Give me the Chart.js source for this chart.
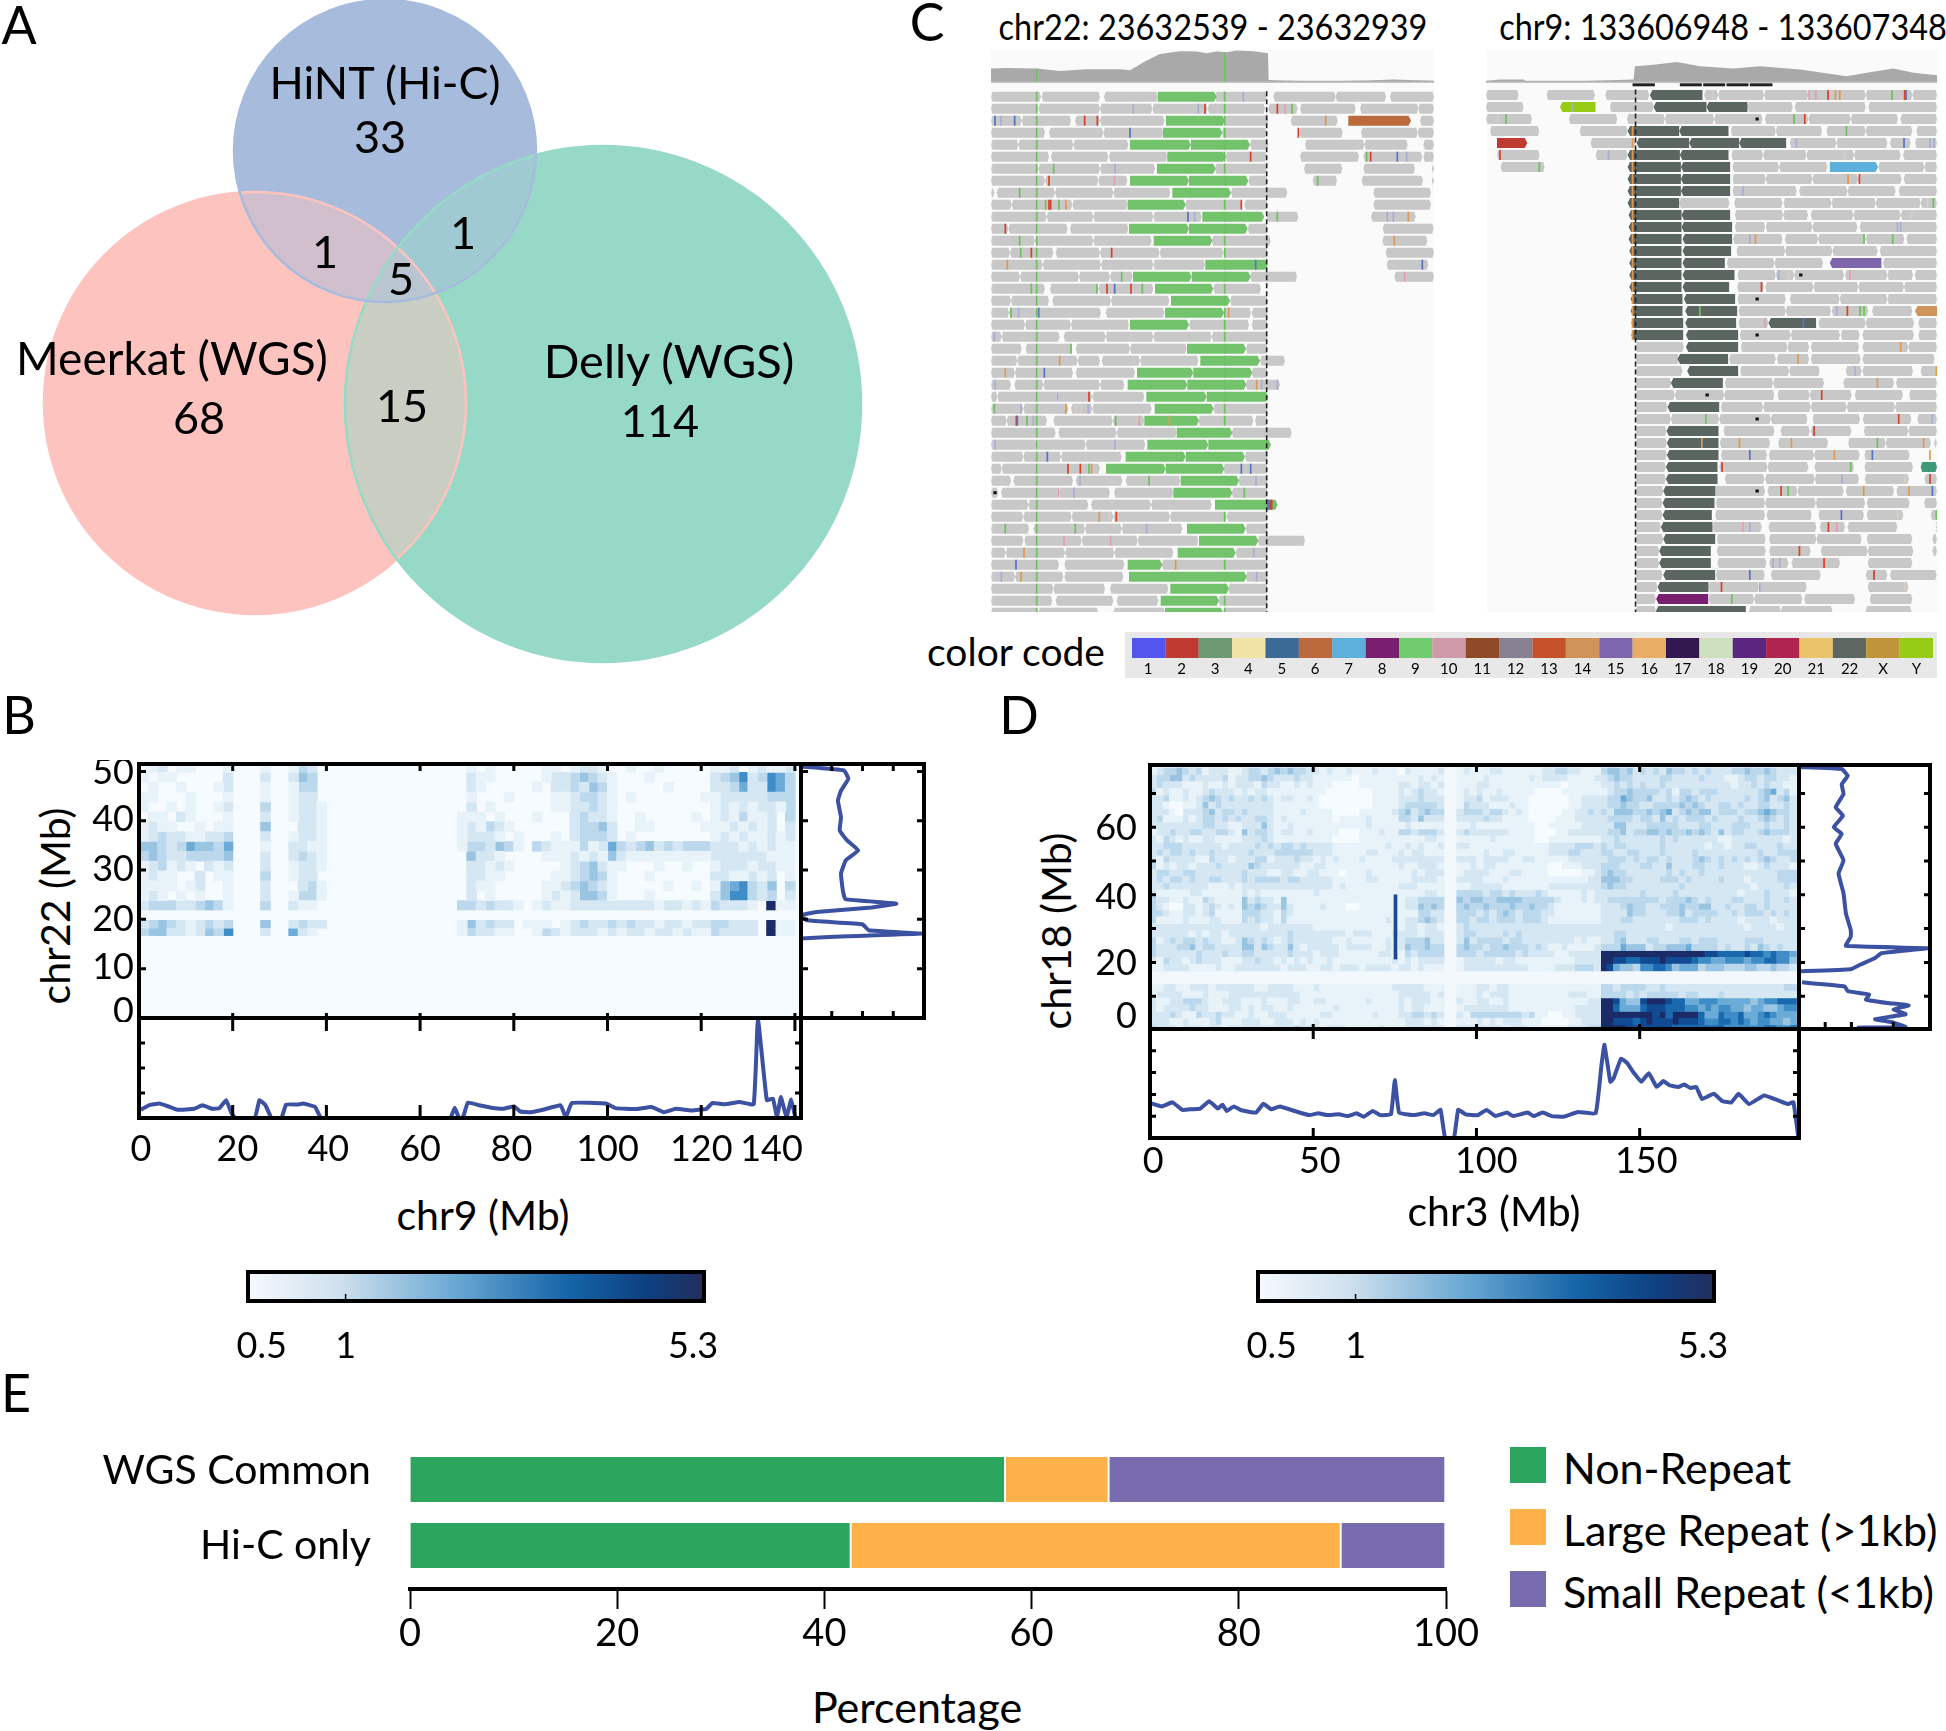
<!DOCTYPE html>
<html><head><meta charset="utf-8">
<script src="https://cdn.jsdelivr.net/npm/chart.js@4"></script>
<style>
html,body{margin:0;padding:0;background:#fff;width:1946px;height:1731px;overflow:hidden}
canvas,.t,.p{position:absolute}
.t{font-family:Lato,sans-serif;color:#000;white-space:nowrap;transform:translate(-50%,-50%);line-height:1}
</style></head><body>
<script>
/* ---------- Panel A ---------- */
const vennSets=['Meerkat (WGS)','Delly (WGS)','HiNT (Hi-C)'];
const vennOnly=[68,114,33];
const vennPairs=[1,1,15];
const vennAll=5;
/* ---------- Panel C : read pile-ups, positions along the 400 bp windows ---------- */
const greyL=[
[18,168,170,345,357,518,690,845,865,1052,1052,1203,1215,1347],
[18,160,160,345,345,502,502,668,668,840,850,938,945,1112,1125,1300,1300,1347],
[18,110,110,258,270,345,345,538,718,850,917,1058,1305,1347],
[18,180,192,355,355,535,710,845,942,1073,1128,1298,1298,1347],
[18,100,100,265,265,430,795,850,960,1138,1138,1268,1315,1347],
[18,192,198,370,372,547,722,845,945,1122,1135,1312,1315,1347],
[18,160,160,345,345,510,690,845,957,1072,1135,1290,1340,1347],
[18,180,180,340,340,427,790,848,983,1056,1130,1314,1340,1347],
[18,28,35,210,210,385,385,556,738,907,1165,1338],
[18,80,80,262,262,428,600,770,778,848,1165,1338],
[18,185,185,325,325,505,505,650,845,940,1158,1292],
[18,70,70,248,255,430,788,848,1193,1346],
[18,150,150,325,325,500,680,857,1192,1327],
[18,75,75,205,212,345,345,524,524,715,715,848,1202,1347],
[18,173,173,348,348,505,505,660,1205,1330],
[18,105,105,282,282,375,375,443,795,936,1228,1347],
[18,180,195,340,340,505,685,828],
[18,78,78,192,202,378,378,553,735,848],
[18,72,72,155,155,348,362,538,715,798,800,848],
[18,120,120,258,258,432,612,792,800,848],
[18,50,50,224,236,362,362,505,505,680,680,848],
[18,110,122,262,272,435,435,605,783,848],
[18,97,97,278,278,345,350,465,465,640,825,900],
[18,90,90,264,272,450,800,848],
[18,78,88,175,175,345,345,418,782,885],
[18,37,37,218,218,322,322,478],
[18,115,115,250,258,322,322,500,685,848],
[18,65,65,186,205,383,383,478,640,805,810,848],
[18,212,220,395,395,575,740,920],
[18,155,155,302,302,481],
[18,115,115,228,228,410,780,848],
[18,50,50,345,715,848],
[18,78,85,264,272,412,422,586,760,848],
[18,40,48,222,222,375,387,565,740,848],
[18,130,130,310,318,498,498,680],
[18,115,115,260,260,385,385,555,555,725,725,848],
[18,132,145,300,300,410,410,592,782,848],
[18,115,118,290,290,458,458,640,818,960],
[18,62,62,240,240,388,388,565,752,848],
[18,222,238,418,530,848],
[18,90,90,235,238,415,782,848],
[18,205,205,360,375,550,730,848],
[18,202,212,385,395,520,700,848],
[18,160,160,340,385,540,715,848]];
const greenL=[
[518,695],[],[543,720],[534,712],[435,618,618,795],[547,722],[516,692],[435,612,612,790],[562,738],[428,602],[652,838],
[432,612,612,788],[506,682],[],[661,848],[444,620,620,797],[510,685],[558,735],[540,717],[435,612],[],[606,783],
[646,825],[456,625,625,802],[428,607,607,784],[484,665,665,850],[509,686],[478,642],[575,742],[487,670,670,858],[422,602,602,780],[363,542,542,718],
[587,762],[565,742],[690,878],[],[606,782],[642,820],[578,752],[428,532],[432,785],[556,732],[527,702],[540,715]];
const mismatchL=[
'719g 775u','445u 640u 660r 719g 877r 900p 921g','30b 48u 89b 299r 337r 719g 1022o','435b 719g 940r','719g','797r 719g 1157r 1145g 1237b 1265u','206g 390u 719g','192r 388p 719g 998g','104g','182g 192r 197r 222g 243o 719g 769r','609b 629u 719g 877g 1207u 1225u 1270o',
'61r 719g','104g 719g 1228o','107g 139r 380r 719g','67o 719g 812b 1312b','410g 719g 1259p','139g 336g 366r 389b 438r 472g 719g','719g','78g 101u 161b 719g 731o','719g','28u 719g','258g 719g',
'224o 719g','61o 178b 719g','30u 719g 815o 830u 877u','218u 312r 719g','28g 108u 243o 273l 290l 310u 719g','94r 97b 126g 145u 392g 463p 553o 719g','','30u 390u','187b','249r 286r 312g 320o 769b 797b',
'285u 492g 813u','221p 267u 778g','855r 850b 860r','343o 373l 394r 719g','61g 271g 485u','237p 377p','117o 806u','93b 572o 719g','49u 108o 815u','719g','719g','719g'];
const snpColumnL=155;
const snpRowsL=[0,1,2,3,4,5,6,7,8,9,10,11,12,13,14,15,16,17,18,19,20,21,22,23,24,25,26,27,28,29,30,31,32,33,34,35,36,37,38,39,40,41,42,43];
const greyR=[
[0,98,182,327,358,490,655,697,697,835,835,968,968,1140,1140,1280,1280,1354],
[0,113,372,503,785,921,927,1140,1148,1354],
[0,138,249,394,423,537,537,685,685,830,837,968,968,1095,1095,1237,1244,1354],
[12,160,281,425,735,870,870,1009,1022,1140,1140,1280,1292,1354],
[314,449,912,1052,1052,1205,1213,1275,1288,1354],
[33,161,329,425,737,832,832,962,962,1105,1105,1245,1252,1354],
[44,176,740,880,880,1025,1178,1316,1316,1354],
[740,840,840,980,980,1118,1118,1248,1254,1354],
[740,933,940,1085,1085,1230,1239,1354],
[580,731,745,890,893,1037,1037,1170,1170,1305,1305,1354],
[747,892,892,967,975,1103,1103,1245,1245,1354],
[747,838,840,980,980,1115,1122,1354],
[742,890,897,997,997,1140,1140,1256,1262,1354],
[752,898,898,1040,1040,1176,1182,1354],
[723,866,866,1012,1192,1354],
[755,870,870,925,925,1075,1078,1205,1205,1282,1287,1354],
[754,835,838,983,983,1118,1118,1255,1255,1354],
[755,900,912,1062,1062,1205,1205,1354],
[758,900,900,1036,1038,1148,1159,1280],
[758,848,998,1140,1140,1285,1298,1354],
[762,915,915,1063,1065,1122,1130,1285,1298,1354],
[449,594,765,905,905,970,975,1120,1130,1268,1268,1354],
[449,580,730,870,873,970,975,1125,1130,1347],
[449,590,763,910,910,1002,1080,1128,1130,1282,1305,1354],
[449,556,717,862,862,1015,1073,1225,1231,1354],
[449,567,567,715,715,866,875,972,972,1098,1107,1252,1270,1354],
[449,545,705,832,832,975,975,1083,1083,1228,1228,1354],
[449,555,555,700,700,855,855,965,980,1123,1131,1277,1295,1354],
[449,542,713,866,884,972,975,1097,1134,1268,1268,1354],
[449,543,702,853,877,1027,1087,1200,1200,1336,1345,1354],
[449,543,705,844,849,985,985,1122,1136,1272],
[449,540,700,845,845,968,986,1105,1136,1282],
[449,540,717,836,838,987,987,1120,1137,1270,1316,1354],
[449,532,680,838,845,935,935,1074,1080,1225,1232,1354],
[449,530,690,838,838,990,990,1138,1143,1272,1315,1354],
[449,530,688,838,842,978,998,1135,1143,1253,1335,1354],
[449,525,680,828,848,992,1002,1078,1085,1235,1350,1354],
[449,532,693,840,850,992,992,1128,1143,1280,1340,1354],
[449,520,693,840,850,975,1005,1146,1146,1283,1340,1354],
[449,520,695,842,850,908,917,1063,1146,1280],
[449,530,690,837,855,1005,1140,1205,1213,1353],
[449,515,668,820,820,963,1146,1268],
[449,510,668,805,805,950,955,1108,1152,1280],
[449,510,790,885,885,1040,1140,1277]];
const darkR=[
[492,650],[503,662,662,785],[],[425,580,580,728],[452,610,610,760,760,901],[425,582,582,728],[425,585,585,733],[425,585,585,733],[425,585,585,733],[425,580],[428,587,587,733],
[428,587,587,739],[428,587,590,739],[430,587,590,736],[430,587,590,717],[430,587,590,746],[430,587,590,730],[434,590,594,748],[434,590,598,754],[436,592,598,751,848,991],[436,592,600,757],[600,757],
[575,727],[604,757],[555,711],[],[545,700],[],[542,698],[543,698],[543,698],[540,695],[540,695],[532,688],[530,686],[530,678],[525,680],[532,688],[520,675],[520,675],[532,688],[515,668],[],[510,780]];
const colouredRowsR=[1,4,6,14,18,31,42];
const colouredStartR=[222,33,1032,1032,1288,1305,511];
const colouredEndR=[329,124,1177,1187,1354,1354,667];
const colouredChrR=['Y','2','7','15','14','22b','8'];
const mismatchR=[
'680l 970p 990p 1027r 1049o 1062o 1219g 1257r 1261b','258u','60g 35l 925g 957r','440o 1082g','440o 932u 1255b 1333u 1345u','42r 368u 440o 1078l','160g 440o','440o 1087o 1121r','440o 771u','440o 1343g 1325l','440o 1278l',
'440o 1235u 1245u','440o 792u 809o 1135g 1221g','440o','440o','440o 879u 1093p 910l','440o 827r','440o','440o 642g 1053u 1085r 1123g 1135g','440o 838p 953b','440o','1245o',
'937o','1108u 1352o','1175o','1008r','','660g 1239r 1340u','985r','648o 761o 917o 1175g 1314o','792b 1046o 1160b 1333o','709r 1095g',
'1069u 1258l 1333r','886r 907g 1134o 1270o 1340b','','1067b 1238l 1352g','771p 792u 1028r 1053p','','941r','862u 882u 1015r','792b 1165r','707r 822u 1258l','738g',''];
const nullDotRowsR=[2,15,17,20,25,27,33];
const nullDotPosR=[814,945,814,814,664,814,814];
const haploBlocksStartR=[440,582,652,722,792];
const haploBlocksEndR=[507,648,718,788,860];
const nullDotRowsL=[33];
const nullDotPosL=[30];
const breakpointL=845, breakpointR=449;
const coverageXL=[17,65,155,225,305,405,435,485,525,585,635,665,695,725,755,805,849,851,945,1065,1145,1225,1345];
const coverageYL=[40,42,40,33,38,38,35,65,85,93,92,87,92,90,95,93,87,5,2,2,4,7,3];
const coverageXR=[3,43,113,120,243,443,447,503,573,643,743,823,943,1083,1143,1223,1283,1354];
const coverageYR=[3,7,7,1,1,7,47,52,60,47,40,47,37,17,27,40,27,20];
const chromCodes=['1','2','3','4','5','6','7','8','9','10','11','12','13','14','15','16','17','18','19','20','21','22','X','Y'];
/* ---------- Panel B : chr9 x chr22 ---------- */
const bColsMb=2;
const bRowEdges=[[49.8,51.2],[47.8,49.8],[45.8,47.8],[43.8,45.8],[41.8,43.8],[39.8,41.8],[37.8,39.8],[35.8,37.8],[33.8,35.8],[31.8,33.8],[29.8,31.8],[27.8,29.8],[25.8,27.8],[23.8,25.8],[21.9,23.8],[18.2,19.8],[16.7,18.2]];
const bMatrix=[
"0120110001 000 1 00 1320 00000000000000 0 10100 000110 12210 0100100000 1120121 1 20",
"1011000002 000 2 00 2430 00000000000000 0 21100 000122 34321 0001000000 2346236 5 30",
"0100100012 000 1 00 1330 00000000000000 0 21000 001022 32431 0000010000 2235226 5 30",
"1100010001 000 1 00 1220 00000000000000 0 10001 000011 23321 0100000001 1222223 3 30",
"1001010012 000 3 00 1221 00000000000000 0 20100 000011 22321 0000000000 1212122 1 30",
"0110210001 000 2 00 1221 00000000000000 1 11010 001000 23221 0010000010 1213112 0 30",
"1211001011 000 4 00 0221 00000000000000 1 21321 000000 23342 0011000001 1121212 0 20",
"1232211223 000 2 00 1221 00000000000000 1 22210 100010 23332 0100000000 1212112 1 20",
"4432354435 000 1 00 2211 00000000000000 1 33243 103211 13125 3234232333 2221212 1 10",
"3432233334 000 2 00 2321 00000000000000 0 42210 000111 21214 2111111111 2222221 1 10",
"1231210212 000 2 00 1221 00000000000000 0 22121 000001 23421 1000100100 1222122 1 10",
"1211002011 000 3 00 1220 00000000000000 0 22110 000011 23431 0001000000 2211212 0 10",
"1111012001 000 2 00 0231 00000000000000 0 21100 000112 34321 0000010010 1456324 0 30",
"1210101001 000 2 00 1331 00000000000000 0 20100 000121 24431 0001000000 2466323 0 20",
"2333223431 000 3 00 2110 00000000000000 3 32322 101211 22222 2222122121 3222109 1 10",
"2343212323 000 4 00 2322 00000000000000 1 42322 011101 23223 2322122122 3322209 1 10",
"3442212436 000 2 00 5210 00000000000000 1 32211 001321 22212 1221221211 3222209 1 10"];
const bBottomMb=[0.4,2.1,4.3,6,8.2,11.8,13.5,15.7,17.2,18.6,19.8,20.6,24.7,25.7,27,28.3,30.4,31.4,33.8,35.1,37.6,38.9,66.4,67.4,68.3,69.1,70.2,72.6,75.2,77.7,80.1,81.4,83.6,86.2,90,91.1,92.4,99.7,101.7,106.2,109.4,112,114.6,117.9,121.1,122.4,125,128.2,131.2,132.1,134,135.3,136.2,137,138.2,139.2,140.1];
const bBottomVal=[8.2,12.7,14.4,12,8.2,9.2,12.7,9.2,9.9,17.8,4.1,0,0,17.8,12.7,0,0,13.4,13.4,14.4,11,0,0,10.3,0,0,15.4,12.7,10.3,9.2,11.6,6.5,5.8,8.2,12.7,0.7,15,14.4,9.9,8.9,11,5.8,9.2,7.5,9.2,15,13.7,16,13.7,99,17.8,19.5,0.7,21,0.7,18.5,0];
const bSideMb=[51,50.2,48.5,46.1,44.1,40.7,38,36,34,32,29.3,25.9,24.1,23.2,22.4,21.5,20.8,19.8,19,17.8,17.1,16.6,16.1];
const bSideVal=[0,35,38.5,32.5,30,32.5,31.5,37.5,46.5,36.5,32.5,34,36,77.5,57.5,12.5,0,5,50,55,97.5,37.5,0];
/* ---------- Panel D : chr3 x chr18 ---------- */
const dRowMb=[76,74,72,70,68,66,64,62,60,58,56,54,52,50,48,46,44,42,40,38,36,34,32,30,28,26,24,22,20,18,16,14,12,10,8,6,4,2,0];
const dMatrix=[
"123343231222112332343433221211211121110211112 1211122111111223322111 344342323243323232223343343222",
"233442322223122334322232211111101111111112121 1111211111121222211112 234332222332222322211233233221",
"232221112112122213221121211100001111112212212 1112211111111111011111 223232322322222222221223232211",
"312112112322212122111111111000000011112123221 1212112111110000111111 123343333231332333222222345231",
"223112123432322323212211210000000011112223222 1223122211100000011222 233543342232343232222232342342",
"221001124232222222211111110000000011112333332 1322211121100000011222 233433223333434322332322332232",
"222102223423323222211112111100001111123423433 2333233212100000112232 324443343452343442333233454332",
"231112123323232233212111111101111211113324222 2222322111100001112222 233332332423233323222322343232",
"222222223322112224211211111111111211111211111 1121111111110011111222 224422233333222332223332232232",
"122322332233214233212211211110001112113323332 2322222211110001122222 233423344343343432423322343332",
"213212112211112223211111111100001111111111221 1111121111110011111111 223222222323222222112222222212",
"223332222221222232323323222211111111211212112 2211111111111122223332 323322222322222212212233222322",
"232332322322222322233333322211111221112122111 1111211221111122233222 332233222322223222222222322333",
"213222211322122233122232212121112111122222222 2221222211221111122222 233323233232223432323232343223",
"312122122232222432222221122111111111112112221 1121221111111100111222 333222332242223322322211232221",
"233223322222223222112211221110111211111121222 1222211122111100000112 343322222232322322222222222333",
"232332322332223233332332222211111221111122221 2222111211111111111122 444332222333232222322212222333",
"223222222111212222222222222212111111112221111 1122222111111122222222 343322222222322222222221222232",
"211111221111112121111111121111111111111111221 3333233232223211111212 222222322223222222222122232221",
"322112113211114232214111111111111111111223333 4344334444333332111212 233333333233343232223322232232",
"321002212321214343224211112111001111111224343 3433433343343321111111 222343322333433442232233232222",
"332112212311113332213211111111111111111113322 3332323432333221111111 222243322233423333223233323232",
"311112111221113232213111111111111111211223432 3323323332333211111111 222332222222333232222122221222",
"222222222222222221222222211111111111111221221 2322222222222222222222 222222222212222222222212222122",
"222222121221222222222322222222122211122221222 2332222323222222222222 223322222222222222222222222222",
"312323323221124323212322222211211111212333422 2423333233222222221211 223422233222332333222233322222",
"322233423322224424322421222221222211212433433 3433233433323211211112 333544423344453333232232432322",
"322222232223223322222322212221111112211323333 3332333332322221122222 999999999999999988777787767665",
"213221232221112232212121211211111111121212222 1222221221111111112222 998877888988887665566656677664",
"112222111121122222221222112212221222212212111 1222222222211112223332 985443667764555344433344334332",
"","",
"112211222122222211222211121111111111122222111 1112212211111111111111 332333322322222222222222222233",
"122221112111222222222221111111111111112222212 1112122211111111122211 333323233333233222322222222222",
"211223332112221112111221122111111211112122211 2112211211111111111122 998544899987755666555554566777",
"212222322111221212211211111121111111112122111 1222222211111111112222 997555788877766565665545544566",
"222321132232211211222111112211111121112233232 2133333333231100112222 999999998979999755766755676555",
"222112111231112221122212121111111111111222121 1112121222111000011222 998887898889888766776765665545",
"322212221221222222222232221222111112111222222 2222222122211111122233 999988888887777777766666677667"];
const dSegmentStart=[0,47,69];
const dLineMb=75.2, dLineFrom=21, dLineTo=40;
const dBottomMb=[0.4,3.6,6.9,9.9,12.7,15.4,18.1,20.8,22.2,23.5,25.7,28,32.5,34.7,37.1,39.8,44.3,48.8,51.5,54.2,57.9,60.6,63.3,65.5,68.2,70.5,73.8,75,76.3,80.5,84.1,86.8,89,90.4,93.1,94.4,96.7,100.4,103.1,105.8,109.4,111.2,115.7,117.5,120.3,123,126.6,131.1,136.5,138.3,139.2,141,142,144.3,146.1,148.3,150.5,152.8,155.2,157.3,159.1,161.8,163.7,165.5,167.3,169.1,172.7,175.4,178.1,180.3,183.5,188.1,192.6,195.3,197.1,198.6];
const dBottomVal=[31.8,29,32.7,25.8,26.4,27,33.7,27,30.5,24.8,29,25.5,23.3,31.4,26.4,29,24.8,21,22.6,21,21.7,20.1,22.6,19.5,24.8,21,21.7,53.1,23.3,21,22.6,21,25.8,0,0,25.8,21.7,21,25.8,20.1,23.3,20.1,23.3,20.1,23.3,20.1,19.5,23.9,22.6,67,85.5,51.6,54.7,72.9,68.9,59.4,51.6,59.4,46.9,52.2,48.4,46.9,49,45.9,46.9,35.8,40.6,33.7,32.7,40.6,31.1,39,34.2,31.1,32.7,0];
const dSideMb=[77.8,77.2,75.2,72.7,69.8,65.9,63.4,60,58,55.1,50.2,46.3,40.4,34.5,29.6,27.6,24.9,24.2,22.7,21.3,19.3,18,17.4,16,14.1,12.9,11.5,10.5,9,8,7.3,6.1,4.7,3.2,2.2,0.9,0.7];
const dSideVal=[0,32.6,37.2,32.6,34,28,33.5,26.5,32.6,28,34,30.2,34,35.8,39.5,39.5,35.8,97.7,62.8,58.1,46.5,39.5,0,null,2.3,34.9,37.2,53.5,51.2,67.4,83.7,72.1,81.4,58.1,72.1,81.4,44.2];
/* ---------- Colour bar ---------- */
const cbTickText=['0.5','1','5.3'];
const cbTickAt=[0.03,0.214,0.976];
const cbMarkAt=[0.214];
/* ---------- Panel E ---------- */
const eCategories=['WGS Common','Hi-C only'];
const eCategoryAt=[-0.13,1];
const eSeriesNames=['Non-Repeat','Large Repeat (>1kb)','Small Repeat (<1kb)'];
const eNonRepeat=[57.5,42.6];
const eLargeRepeat=[10,47.3];
const eSmallRepeat=[32.5,10.1];

/* ---------- styles ---------- */
const COL={grey:'#c8c8c8',green:'#73c36c',dark:'#5a665f',line:'#3d51a3',cov:'#a9a9a9'};
const MM={g:'#6fc060',r:'#d8412c',b:'#5a72c4',u:'#a9aed6',o:'#de9a55',p:'#e39fae',l:'#d8cfc6'};
const heat=['#f5fbfe','#e8f3f9','#d5e7f3','#bcd8ec','#9ac5e2','#6babd7','#3f8dc6','#1a69ae','#0f4a92','#1b2b68'];
const chromColors=['#5454ee','#bf3a30','#6c9a73','#f1e2a6','#3a6a95','#bc6a3c','#5eb0dc','#7a1f70','#71cc6e','#cf99a8','#8f4a2a','#868090','#c5522b','#d0935a','#7d66ac','#e9ad65','#33174f','#cfe0bf','#5a2680','#b0254f','#eac36a','#5b6760','#c09438','#96cc14'];
const chromExtra={'22b':'#3f9a78'};
const venn={blue:'#a7bcdd',red:'#fdc3be',green:'#97d9c7'};

Chart.defaults.font.family='Lato, sans-serif';
Chart.defaults.color='#000';
Chart.defaults.animation=false;
Chart.defaults.layout.autoPadding=false;
Chart.defaults.plugins.legend.display=false;
Chart.defaults.plugins.tooltip.enabled=false;
Chart.defaults.events=[];

function T(text,x,y,size,rot,sx){
  const d=document.createElement('div');d.className='t';d.textContent=text;
  d.style.left=x+'px';d.style.top=y+'px';d.style.fontSize=size+'px';
  d.style.transform='translate(-50%,-50%)'+(rot?' rotate('+rot+'deg)':'')+(sx?' scaleX('+sx+')':'');
  document.body.appendChild(d);return d;
}
function P(x,y,w,h,c){
  const d=document.createElement('div');d.className='p';
  d.style.cssText='left:'+x+'px;top:'+y+'px;width:'+w+'px;height:'+h+'px;background:'+c;
  document.body.appendChild(d);
}
function cv(x,y,w,h){
  const c=document.createElement('canvas');c.width=w;c.height=h;
  c.style.left=x+'px';c.style.top=y+'px';c.style.width=w+'px';c.style.height=h+'px';
  document.body.appendChild(c);return c.getContext('2d');
}
/* frame + inward ticks on all four sides */
Chart.register({id:'frame',afterDatasetsDraw(ch,a,o){
  if(!o||!o.w)return;const {left:l,right:r,top:t,bottom:b}=ch.chartArea,c=ch.ctx;
  c.save();c.strokeStyle='#000';
  c.lineWidth=o.tw||3;c.beginPath();
  (o.mx||[]).forEach(v=>{const p=ch.scales.x.getPixelForValue(v);
    if(o.bottom){c.moveTo(p,b);c.lineTo(p,b-o.bottom)} if(o.top){c.moveTo(p,t);c.lineTo(p,t+o.top)}});
  (o.my||[]).forEach(v=>{const p=ch.scales.y.getPixelForValue(v);
    if(o.left){c.moveTo(l,p);c.lineTo(l+o.left,p)} if(o.right){c.moveTo(r,p);c.lineTo(r-o.right,p)}});
  c.stroke();c.lineWidth=o.w;c.strokeRect(l,t,r-l,b-t);c.restore();
}});
/* IGV style read shapes */
Chart.register({id:'reads',beforeDatasetDraw(ch,a){
  const ds=ch.data.datasets[a.index];if(!ds.tip)return;
  const c=ch.ctx,A=ch.chartArea;c.save();c.beginPath();c.rect(A.left,A.top,A.right-A.left,A.bottom-A.top);c.clip();
  c.fillStyle=ds.backgroundColor;
  a.meta.data.forEach(e=>{
    const x0=Math.min(e.base,e.x),x1=Math.max(e.base,e.x),h=e.height/2,y=e.y,k=ds.tip==='both'?1.5:2.5;c.beginPath();
    const L=(ds.tip==='both'||ds.tip==='left'),R=(ds.tip==='both'||ds.tip==='right');
    c.moveTo(x0+(L?k:0),y-h);c.lineTo(x1-(R?k:0),y-h);if(R)c.lineTo(x1,y);c.lineTo(x1-(R?k:0),y+h);
    c.lineTo(x0+(L?k:0),y+h);if(L)c.lineTo(x0,y);c.closePath();c.fill();
  });c.restore();return false;
},afterDatasetsDraw(ch,a,o){
  if(o==null||o.at==null)return;const c=ch.ctx,p=ch.scales.x.getPixelForValue(o.at);
  c.save();c.strokeStyle='#222';c.lineWidth=1.6;c.setLineDash([5,3]);c.beginPath();c.moveTo(p,ch.scales.y.getPixelForValue(-0.45));c.lineTo(p,ch.chartArea.bottom);c.stroke();c.restore();
}});
/* Venn overlaps are the mean of the two colours */
Chart.register({id:'vennMix',afterDatasetsDraw(ch,a,o){
  if(!o||!o.on)return;const c=ch.ctx,M=i=>ch.getDatasetMeta(i).data[0];
  const C=e=>{c.beginPath();c.arc(e.x,e.y,e.options.radius,0,Math.PI*2)};
  const g=M(0),r=M(1),b=M(2);
  c.save();C(g);c.clip();c.globalAlpha=.5;c.fillStyle=venn.red;C(r);c.fill();c.restore();
  c.save();C(b);c.clip();c.globalAlpha=.5;c.fillStyle=venn.blue;C(b);c.fill();c.restore();
  c.lineWidth=2.5;
  [[r,venn.red],[g,venn.green],[b,venn.blue]].forEach(([e,k])=>{c.strokeStyle=k;C(e);c.stroke()});
}});

function labelledScale(range,labels,values,font,pad,size,axis){
  return {type:'linear',min:range[0],max:range[1],offset:false,display:true,
    grid:{display:false,offset:false,drawTicks:false},border:{display:false},
    afterBuildTicks:s=>{s.ticks=values.map((v,i)=>({value:v,txt:labels[i]}))},
    afterFit:s=>{if(axis==='x')s.height=size;else s.width=size;s.paddingLeft=s.paddingRight=s.paddingTop=s.paddingBottom=0},
    ticks:{autoSkip:false,maxRotation:0,minRotation:0,padding:pad,font:{size:font},callback:(v,i,t)=>t[i].txt}};
}
function plainScale(range,rev){return {type:'linear',min:range[0],max:range[1],offset:false,display:false,reverse:!!rev,grid:{offset:false}}}
function panel(o){
  const m=Object.assign({l:4,r:4,t:4,b:4},o.m||{});
  const ctx=cv(o.x0-m.l,o.y0-m.t,o.x1-o.x0+m.l+m.r,o.y1-o.y0+m.t+m.b);
  const xs=o.xl?labelledScale(o.xr,o.xl[0],o.xl[1],o.font||36,o.xpad,m.b,'x'):plainScale(o.xr,o.xrev);
  const ys=o.yl?labelledScale(o.yr,o.yl[0],o.yl[1],o.font||36,o.ypad,m.l,'y'):plainScale(o.yr,o.yrev);
  return new Chart(ctx,{type:o.type||'bar',data:{labels:o.labels,datasets:o.datasets},
    options:{responsive:false,indexAxis:o.indexAxis||'x',
      layout:{autoPadding:false,padding:{top:m.t,right:m.r,left:o.yl?0:m.l,bottom:o.xl?0:m.b}},
      scales:{x:xs,y:ys},plugins:Object.assign({frame:o.frame||{}},o.plugins||{})}});
}

/* ---------- Panel A ---------- */
(function(){
  const ctx=cv(0,0,900,680);
  new Chart(ctx,{type:'bubble',data:{datasets:[
    {data:[{x:603,y:404,r:258}],backgroundColor:venn.green,borderWidth:0,clip:false},
    {data:[{x:255,y:403,r:211}],backgroundColor:venn.red,borderWidth:0,clip:false},
    {data:[{x:385,y:151,r:151}],backgroundColor:venn.blue,borderWidth:0,clip:false}]},
    options:{responsive:false,scales:{x:plainScale([0,900]),y:plainScale([0,680],true)},layout:{autoPadding:false,padding:0},plugins:{vennMix:{on:true}}}});
  T(vennSets[2],385,82,45);T(String(vennOnly[2]),380,136,45);
  T(vennSets[0],172,358,46);T(String(vennOnly[0]),199,417,45);
  T(vennSets[1],669,360,47);T(String(vennOnly[1]),660,420,45);
  T(String(vennPairs[0]),325,251,45);T(String(vennPairs[1]),463,232,45);
  T(String(vennPairs[2]),402,405,45);T(String(vennAll),401,278,45);
})();
T('A',19,24,52);T('B',19,714,52);T('C',927,21,52);T('D',1019,714,52);T('E',16,1392,52);

/* ---------- Panel C ---------- */
function pairs(rows){const out=[];rows.forEach((r,i)=>{for(let k=0;k<r.length;k+=2)out.push({x:[r[k],r[k+1]],y:i})});return out}
function mmData(rows,code){const out=[];rows.forEach((s,i)=>{(s.match(/\d+[a-z]/g)||[]).forEach(t=>{if(t.slice(-1)===code){const p=parseInt(t);out.push({x:[p-2.6,p+2.6],y:i})}})});return out}
function barSet(data,color,tip,th){return {data,backgroundColor:color,tip:tip,grouped:false,barThickness:th||10}}
function igv(x0,x1,zmin,zmax,top,datasets,bp){
  const y0=80,y1=612;
  panel({x0,x1,y0,y1,m:{l:0,r:0,t:0,b:0},xr:[zmin,zmax],yr:[(y0-top)/12,(y1-top)/12],yrev:true,indexAxis:'y',datasets:datasets.reverse(),plugins:{reads:{at:bp}}});
}
function coverage(x0,x1,zmin,zmax,xs,ys,spikes){
  const ds=[{data:xs.map((v,i)=>({x:v,y:ys[i]})),borderWidth:0,backgroundColor:COL.cov,fill:'origin',pointRadius:0,showLine:true,tension:0}];
  ds.push({data:[{x:zmin,y:0},{x:zmax,y:0}],borderColor:'#b3b3b3',borderWidth:2,pointRadius:0,showLine:true});
  spikes.forEach(s=>ds.push({data:[{x:s[0],y:0},{x:s[0],y:s[1]}],borderColor:'#6fc060',borderWidth:1.2,pointRadius:0,showLine:true}));
  panel({type:'scatter',x0,x1,y0:48,y1:84,m:{l:0,r:0,t:0,b:0},xr:[zmin,zmax],yr:[-7,103],datasets:ds.reverse()});
}
P(991,50,443,562,'#fafafa');P(1487,50,451,562,'#fafafa');
coverage(991,1434,18,1347,coverageXL,coverageYL,[[155,40],[719,90]]);
coverage(1486,1937,0,1354,coverageXR,coverageYR,[]);
igv(991,1434,18,1347,96.7,[
  barSet(pairs(greyL),COL.grey,'both'),
  barSet(pairs(greenL),COL.green,'right'),
  barSet([{x:[1090,1278],y:2}],chromColors[5],'right'),
  barSet(snpRowsL.map(r=>({x:[snpColumnL-2.5,snpColumnL+2.5],y:r})),MM.g,'none'),
  ...Object.keys(MM).map(k=>barSet(mmData(mismatchL,k),MM[k],'none')),
  barSet(nullDotRowsL.map((r,i)=>({x:[nullDotPosL[i]-5,nullDotPosL[i]+5],y:r})),'#111','none',3)
],breakpointL);
igv(1486,1937,0,1354,95,[
  barSet(pairs(greyR),COL.grey,'both'),
  barSet(pairs(darkR),COL.dark,'left'),
  ...colouredRowsR.map((r,i)=>{const n=colouredChrR[i];
    return barSet([{x:[colouredStartR[i],colouredEndR[i]],y:r}],chromExtra[n]||chromColors[chromCodes.indexOf(n)],n==='22b'?'both':(n==='Y'||n==='15'||n==='14'||n==='8'?'left':'right'))}),
  ...Object.keys(MM).map(k=>barSet(mmData(mismatchR,k),MM[k],'none')),
  barSet(nullDotRowsR.map((r,i)=>({x:[nullDotPosR[i]-5,nullDotPosR[i]+5],y:r})),'#111','none',3),
  barSet(haploBlocksStartR.map((s,i)=>({x:[s,haploBlocksEndR[i]],y:-0.85})),'#222','none',3)
],breakpointR);
T('chr22: 23632539 - 23632939',1213,25,37,0,.876);T('chr9: 133606948 - 133607348',1723,25,37,0,.876);
T('color code',1016,651,39);
P(1125,632,812,46,'#e8e8e8');
panel({x0:1131.5,x1:1933,y0:638,y1:658,m:{l:0,r:0,t:0,b:22},labels:chromCodes,yr:[0,1],xr:[0,24],
  datasets:[{data:chromCodes.map((c,i)=>({x:i+.5,y:1})),backgroundColor:chromColors,barThickness:33.4,grouped:false,inflateAmount:0}]});
chromCodes.forEach((c,i)=>T(c,1131.5+33.4*(i+.5),668,15));

/* ---------- Heat maps ---------- */
function levels(cells,th){return heat.map((col,lv)=>({data:cells.filter(c=>c.v===lv),backgroundColor:col,grouped:false,barThickness:th}))}
const bCells=[];
bMatrix.forEach((s,i)=>{const r=s.replace(/\s/g,'');for(let j=0;j<r.length;j++){const v=+r[j];if(v)bCells.push({x:bColsMb*j+bColsMb/2,y:bRowEdges[i],v})}});
const dCells=[];
dMatrix.forEach((s,i)=>{if(!s)return;s.split(' ').forEach((seg,k)=>{for(let j=0;j<seg.length;j++)dCells.push({x:2*(dSegmentStart[k]+j)+1,y:[dRowMb[i]-.5,dRowMb[i]+1.5],v:+seg[j]})})});
function series(xs,ys,swap){return {data:xs.map((v,i)=>swap?{x:ys[i],y:v}:{x:v,y:ys[i]}),borderColor:COL.line,borderWidth:4,pointRadius:0,showLine:true,tension:.1,borderJoinStyle:'round'}}

P(139,764,662,254,heat[0]);
panel({x0:139,x1:801,y0:764,y1:1018,m:{l:50,r:4,t:4,b:4},xr:[0,141.3],yr:[0,51.5],
  yl:[['50','40','30','20','10','0'],[49.8,40.3,30.2,19.9,10.3,1.3]],ypad:5,
  datasets:levels(bCells,9.9),frame:{w:4,mx:[20,40,60,80,100,120,140],my:[10,20,30,40,50],top:7,bottom:5,left:7,right:0}});
panel({type:'scatter',x0:801,x1:924,y0:764,y1:1018,xr:[0,100],yr:[0,51.5],datasets:[series(bSideMb,bSideVal,true)],
  frame:{w:4,mx:[25,50,75],my:[10,20,30,40,50],top:7,bottom:7,left:7,right:7}});
panel({type:'scatter',x0:139,x1:801,y0:1018,y1:1118,m:{l:30,r:24,t:4,b:54},xr:[0,141.3],yr:[0,100],
  xl:[['0','20','40','60','80','100','120','140'],[0.4,21,40.4,60,79.5,100,120,135]],xpad:10,
  datasets:[series(bBottomMb,bBottomVal)],frame:{w:4,mx:[20,40,60,80,100,120,140],my:[25,50,75],top:13,bottom:13,left:6,right:6}});
T('chr22 (Mb)',54,906,41,-90);T('chr9 (Mb)',483,1214,41);

P(1150,765,649,264,'#f2f8fc');
panel({x0:1150,x1:1799,y0:765,y1:1029,m:{l:60,r:4,t:4,b:4},xr:[0,198.8],yr:[0.3,78.4],
  yl:[['60','40','20','0'],[59.5,39.3,19.8,4.1]],ypad:13,
  datasets:[{data:[{x:dLineMb,y:[dLineFrom,dLineTo]}],backgroundColor:'#1a478f',grouped:false,barThickness:3},...levels(dCells,6.9)],
  frame:{w:4,mx:[50,100,150],my:[10,20,30,40,50,60,70],top:7,bottom:5,left:6,right:0}});
panel({type:'scatter',x0:1799,x1:1930,y0:765,y1:1029,xr:[0,100],yr:[0.3,78.4],datasets:[series(dSideMb,dSideVal,true)],
  frame:{w:4,mx:[20,40,72],my:[10,20,30,40,50,60,70],top:0,bottom:7,left:6,right:6}});
panel({type:'scatter',x0:1150,x1:1799,y0:1029,y1:1138,m:{l:30,r:4,t:4,b:50},xr:[0,198.8],yr:[0,100],
  xl:[['0','50','100','150'],[1,52,103,152]],xpad:2,
  datasets:[series(dBottomMb,dBottomVal)],frame:{w:4,mx:[50,100,150],my:[20,40,60,80],top:10,bottom:10,left:6,right:6}});
T('chr18 (Mb)',1055,931,41,-90);T('chr3 (Mb)',1494,1210,41);

/* ---------- Colour bars ---------- */
function colourBar(x0,x1){
  const ml=40;
  const o={x0,x1,y0:1272,y1:1301,m:{l:ml,r:24,t:5,b:72},xr:[0,1],yr:[-.5,.5],indexAxis:'y',
    xl:[cbTickText,cbTickAt],xpad:24,font:36,datasets:[],frame:{w:4,mx:cbMarkAt,bottom:7,tw:1.5}};
  const ctx0=document.createElement('canvas').getContext('2d');
  const g=ctx0.createLinearGradient(ml,0,ml+x1-x0,0);
  [[0,'#f5f9fd'],[.2,'#cfe0ee'],[.45,'#6aa9d4'],[.7,'#1565a8'],[.88,'#0f3f80'],[1,'#232d5c']].forEach(s=>g.addColorStop(s[0],s[1]));
  o.datasets=[{data:[{x:[0,1],y:0}],backgroundColor:g,grouped:false,barThickness:30}];
  panel(o);
}
colourBar(248,704);colourBar(1258,1714);

/* ---------- Panel E ---------- */
(function(){
  const x0=410,x1=1446,y0=1440,y1=1589,ml=350;
  const ctx=cv(x0-ml,y0,x1-x0+ml+40,y1-y0+90);
  const rows=[0,1];
  const mk=(vals,c)=>({data:rows.map(r=>({x:vals[r],y:r})),backgroundColor:c,barThickness:45,borderColor:'#fff',borderWidth:{left:0,right:2,top:0,bottom:0},borderSkipped:false});
  const zero=s=>{s.paddingLeft=s.paddingRight=s.paddingTop=s.paddingBottom=0};
  new Chart(ctx,{type:'bar',data:{datasets:[mk(eNonRepeat,'#2ca55e'),mk(eLargeRepeat,'#fdb148'),mk(eSmallRepeat,'#786bae')]},
    options:{responsive:false,indexAxis:'y',layout:{autoPadding:false,padding:{right:40,top:0,bottom:0}},
      scales:{
        x:{type:'linear',stacked:true,min:0,max:100,position:'bottom',afterFit:s=>{s.height=90;zero(s)},
          grid:{drawOnChartArea:false,tickLength:20,tickWidth:2,tickColor:'#000',offset:false},border:{color:'#000',width:4},
          ticks:{stepSize:20,padding:2,font:{size:38},maxRotation:0}},
        y:{type:'linear',stacked:true,reverse:true,min:(y0-1479.5)/66,max:(y1-1479.5)/66,offset:false,afterFit:s=>{s.width=ml;zero(s)},
          grid:{display:false,offset:false,drawTicks:false},border:{display:false},
          afterBuildTicks:s=>{s.ticks=eCategoryAt.map((v,i)=>({value:v,txt:eCategories[i]}))},
          ticks:{autoSkip:false,padding:39,font:{size:41},callback:(v,i,t)=>t[i].txt}}},
      plugins:{}}});
  const sw=['#2ca55e','#fdb148','#786bae'],yy=[1447,1509,1571];
  eSeriesNames.forEach((n,i)=>{P(1510,yy[i],36,36,sw[i]);
    const d=T(n,0,0,43);d.style.left='1563px';d.style.top=(yy[i]+20)+'px';d.style.transform='translateY(-50%)';});
  T('Percentage',917,1706,43);
})();
</script></body></html>
